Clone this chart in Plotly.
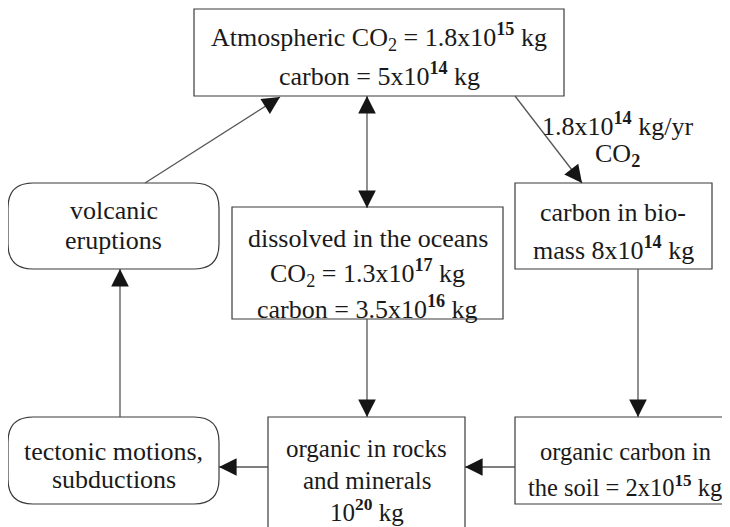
import math
import plotly.graph_objects as go

# ---- diagram content (labels / values) ----
atmos_lines = ["Atmospheric CO<sub>2</sub> = 1.8x10<sup><b>15</b></sup> kg",
               "carbon = 5x10<sup><b>14</b></sup> kg"]
ocean_lines = ["dissolved in the oceans",
               "CO<sub>2</sub> = 1.3x10<sup><b>17</b></sup> kg",
               "carbon = 3.5x10<sup><b>16</b></sup> kg"]
biomass_lines = ["carbon in bio-", "mass 8x10<sup><b>14</b></sup> kg"]
flow_lines = ["1.8x10<sup><b>14</b></sup> kg/yr", "CO<sub><b>2</b></sub>"]
volcanic_lines = ["volcanic", "eruptions"]
tectonic_lines = ["tectonic motions,", "subductions"]
rocks_lines = ["organic in rocks", "and minerals", "10<sup><b>20</b></sup> kg"]
soil_lines = ["organic carbon in", "the soil = 2x10<sup><b>15</b></sup> kg"]

# ---- layout geometry (window pixel coordinates, y downward) ----
boxes = {
    "atmos":    dict(x0=194, y0=9,   x1=564, y1=96,  round=False),
    "ocean":    dict(x0=232, y0=207, x1=503, y1=319, round=False),
    "biomass":  dict(x0=515, y0=183, x1=712, y1=269, round=False),
    "volcanic": dict(x0=8,   y0=183, x1=219, y1=269, round=True),
    "tectonic": dict(x0=8,   y0=417, x1=219, y1=504, round=True),
    "rocks":    dict(x0=268, y0=417, x1=465, y1=535, round=False),
    "soil":     dict(x0=515, y0=417, x1=742, y1=504, round=False),
}
text_pos = [
    (atmos_lines, 379, [37, 74], 26),
    (ocean_lines, 367.5, [238, 273, 307], 26),
    (biomass_lines, 613, [212, 248], 26),
    (flow_lines, 617, [124, 155], 26),
    (volcanic_lines, 113.5, [210, 240], 26),
    (tectonic_lines, 113.5, [451, 479], 26),
    (rocks_lines, 366.5, [448, 480, 510], 25),
    (soil_lines, 625, [451, 486], 24.5),
]
# arrows: (tail_x, tail_y, tip_x, tip_y, double)
arrows = [
    (145, 183, 280, 97, False),
    (515, 96, 582, 183, False),
    (367, 208, 367, 96, True),
    (367, 319, 367, 417, False),
    (120, 417, 120, 269, False),
    (638, 269, 638, 417, False),
    (268, 467, 219, 467, False),
    (515, 467, 465, 467, False),
]

BOX_LINE = "#3a3a3a"
ARROW_LINE = "#555555"
HEAD = "#151515"
FAMILY = "Liberation Serif"
OFF = 8  # page body margin in the browser

fig = go.Figure()
shapes = []
for b in boxes.values():
    if b["round"]:
        r = 25
        x0, y0, x1, y1 = b["x0"], b["y0"], b["x1"], b["y1"]
        path = (f"M{x0+r},{y0} L{x1-r},{y0} Q{x1},{y0} {x1},{y0+r} "
                f"L{x1},{y1-r} Q{x1},{y1} {x1-r},{y1} L{x0+r},{y1} "
                f"Q{x0},{y1} {x0},{y1-r} L{x0},{y0+r} Q{x0},{y0} {x0+r},{y0} Z")
        shapes.append(dict(type="path", path=path, xref="x", yref="y",
                           line=dict(color=BOX_LINE, width=1.2), fillcolor="white"))
    else:
        shapes.append(dict(type="rect", x0=b["x0"], y0=b["y0"], x1=b["x1"], y1=b["y1"],
                           xref="x", yref="y", line=dict(color=BOX_LINE, width=1.2),
                           fillcolor="white"))

annotations = []
for lines, cx, ys, fs in text_pos:
    for txt, yy in zip(lines, ys):
        annotations.append(dict(x=cx, y=yy, xref="x", yref="y", text=txt,
                                showarrow=False,
                                font=dict(family=FAMILY, size=fs, color="#1a1a1a"),
                                xanchor="center", yanchor="middle"))


def head(tip_x, tip_y, from_x, from_y):
    d = math.hypot(tip_x - from_x, tip_y - from_y)
    ux, uy = (tip_x - from_x) / d, (tip_y - from_y) / d
    annotations.append(dict(x=tip_x, y=tip_y, ax=tip_x - ux * 12, ay=tip_y - uy * 12,
                            xref="x", yref="y", axref="x", ayref="y", text="",
                            showarrow=True, arrowhead=2, arrowsize=3.2,
                            arrowwidth=1.1, arrowcolor=HEAD, standoff=0))


for tx, ty, hx, hy, dbl in arrows:
    shapes.append(dict(type="line", x0=tx, y0=ty, x1=hx, y1=hy, xref="x", yref="y",
                       line=dict(color=ARROW_LINE, width=1.3)))
    head(hx, hy, tx, ty)
    if dbl:
        head(tx, ty, hx, hy)

fig.update_layout(
    width=730 - OFF, height=527 - OFF,
    margin=dict(l=0, r=0, t=0, b=0),
    paper_bgcolor="white", plot_bgcolor="white",
    xaxis=dict(range=[OFF, 730], visible=False, fixedrange=True),
    yaxis=dict(range=[527, OFF], visible=False, fixedrange=True),
    shapes=shapes, annotations=annotations, showlegend=False,
)
fig.write_html("out.html")
